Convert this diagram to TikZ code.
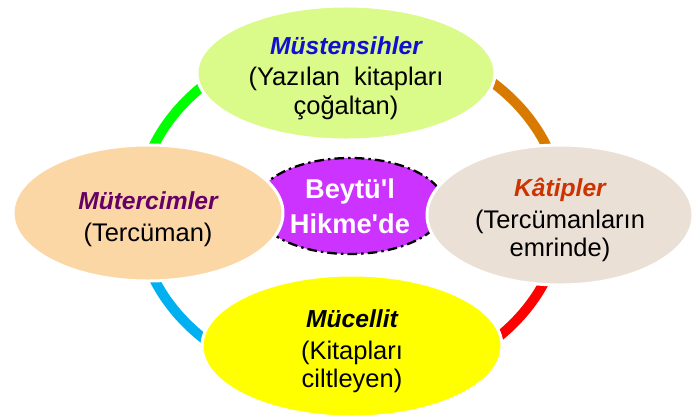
\documentclass[tikz,border=0pt]{standalone}
\usepackage{fontspec}
\setmainfont{Liberation Sans}
\usetikzlibrary{shapes.geometric}
\definecolor{copyistFill}{RGB}{218,250,138}
\definecolor{translatorFill}{RGB}{252,215,166}
\definecolor{clerkFill}{RGB}{235,224,214}
\definecolor{binderFill}{RGB}{255,255,0}
\definecolor{houseFill}{RGB}{204,51,255}
\definecolor{copyistText}{RGB}{16,16,208}
\definecolor{translatorText}{RGB}{102,0,102}
\definecolor{clerkText}{RGB}{204,51,0}
\definecolor{ringGreen}{RGB}{0,255,0}
\definecolor{ringOrange}{RGB}{217,122,0}
\definecolor{ringRed}{RGB}{255,0,0}
\definecolor{ringBlue}{RGB}{0,176,240}
\newcommand{\roleName}[2]{{\color{#1}\fontsize{14}{16}\selectfont\bfseries\itshape #2}}
\newcommand{\ringRadii}{4.24 and 3.5}
\tikzset{
  roleBox/.style={ellipse, draw=white, line width=1.7pt, inner sep=0pt},
  roleText/.style={align=center, inner sep=0pt, font=\fontsize{14.5}{16}\selectfont},
  ringPart/.style={line width=0.2cm},
}

\begin{document}
\begin{tikzpicture}
\useasboundingbox (0,0) rectangle (14,8.36);
%ring
\coordinate (ringCenter) at (7,4.12);
\draw[ringPart, ringOrange] (ringCenter) ++(0:\ringRadii)   arc (0:90:\ringRadii);
\draw[ringPart, ringGreen]  (ringCenter) ++(90:\ringRadii)  arc (90:180:\ringRadii);
\draw[ringPart, ringBlue]   (ringCenter) ++(180:\ringRadii) arc (180:270:\ringRadii);
\draw[ringPart, ringRed]    (ringCenter) ++(270:\ringRadii) arc (270:360:\ringRadii);

%centre
\node[ellipse, fill=houseFill, draw=black, line width=1.3pt, inner sep=0pt,
      dash pattern=on 5.5pt off 2.3pt on 1.4pt off 2.3pt, minimum width=3.8cm, minimum height=1.92cm,
      text=white, align=center, font=\fontsize{15.5}{20}\selectfont\bfseries]
      (beytulHikme) at (7,4.24) {Beytü\textquotesingle l\\Hikme\textquotesingle de};

%roles
\node[roleBox, fill=copyistFill,    minimum width=5.96cm, minimum height=2.68cm] (mustensihler) at (6.92,6.9) {};
\node[roleBox, fill=translatorFill, minimum width=5.4cm,  minimum height=2.72cm] (mutercimler)  at (2.96,4.1) {};
\node[roleBox, fill=clerkFill,      minimum width=5.32cm, minimum height=2.8cm]  (katipler)     at (11.2,4.06) {};
\node[roleBox, fill=binderFill,     minimum width=6cm,    minimum height=2.84cm] (mucellit)     at (7.04,1.44) {};

\node[roleText] (mustensihlerText) at ([yshift=-0.1cm]mustensihler.center)
      {\roleName{copyistText}{Müstensihler}\\[2pt](Yazılan\ \ kitapları\\çoğaltan)};
\node[roleText] (mutercimlerText) at ([yshift=-0.12cm]mutercimler.center)
      {\roleName{translatorText}{Mütercimler}\\[2pt](Tercüman)};
\node[roleText] (katiplerText) at ([yshift=-0.1cm]katipler.center)
      {\roleName{clerkText}{Kâtipler}\\[2pt](Tercümanların\\emrinde)};
\node[roleText] (mucellitText) at ([yshift=-0.1cm]mucellit.center)
      {\roleName{black}{Mücellit}\\[2pt](Kitapları\\ciltleyen)};
\end{tikzpicture}
\end{document}
